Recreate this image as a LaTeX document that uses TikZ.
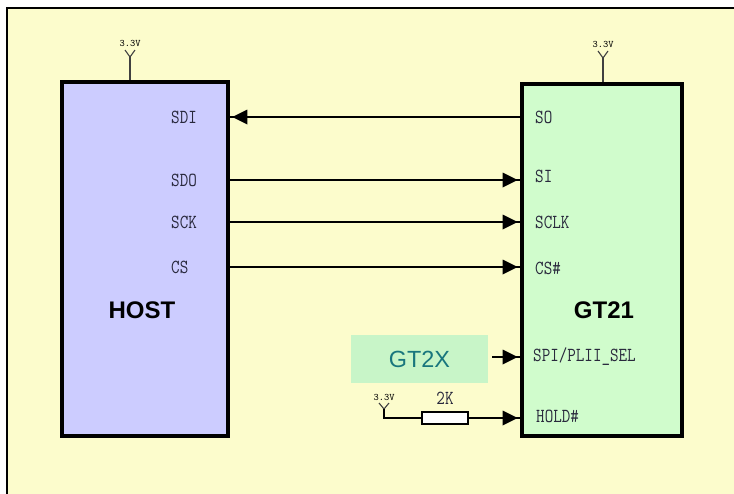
\documentclass[tikz,border=0pt]{standalone}
\usepackage{fontspec}
\usetikzlibrary{shapes.geometric}
\newfontfamily\armfont{Liberation Sans}
\definecolor{bgyellow}{RGB}{252,252,204}
\definecolor{hostblue}{RGB}{204,204,255}
\definecolor{chipgreen}{RGB}{208,252,204}
\definecolor{selgreen}{RGB}{200,245,200}
\definecolor{selteal}{RGB}{25,118,125}
\definecolor{pintext}{RGB}{40,40,60}
\tikzset{
  chip/.style={draw=black, line width=3.5pt, inner sep=0pt},
  pin/.style={anchor=west, inner sep=0pt, text=pintext, font=\fontsize{16.6}{16.6}\ttfamily},
  wire/.style={line width=2pt},
  tipr/.style={isosceles triangle, isosceles triangle stretches, fill=black, draw=none,
      inner sep=0pt, minimum height=15pt, minimum width=15pt, anchor=apex, shape border rotate=0},
  tipl/.style={tipr, shape border rotate=180},
  thin/.style={line width=1.1pt, draw=black!75},
  vlabel/.style={inner sep=0pt, font=\fontsize{10}{10}\ttfamily},
  chipname/.style={inner sep=0pt, font=\fontsize{24}{24}\armfont\bfseries}
}
\newcommand{\pinlbl}[1]{\scalebox{1}[1.2]{#1}}
\begin{document}
\begin{tikzpicture}[x=1pt,y=-1pt]
\useasboundingbox (0,0) rectangle (734,493);
\clip (0,0) rectangle (734,493);
\fill[white] (0,0) rectangle (734,493);
\draw[fill=bgyellow, line width=2pt] (7,8) rectangle (760,520);
% chips
\node[chip, fill=hostblue, minimum width=166pt, minimum height=354pt] (host) at (145,259) {};
\node[chip, fill=chipgreen, minimum width=160pt, minimum height=352pt] (gt) at (602,260) {};
\node[chipname] (hostname) at (142,310) {HOST};
\node[chipname] (gtname) at (604,310) {GT21};
% host pins
\node[pin] (sdi) at (171,117) {\pinlbl{SDI}};
\node[pin] (sdo) at (171,180) {\pinlbl{SDO}};
\node[pin] (sck) at (171,222) {\pinlbl{SCK}};
\node[pin] (cs) at (171,267) {\pinlbl{CS}};
% gt pins
\node[pin] (so) at (535,117) {\pinlbl{SO}};
\node[pin] (si) at (535,176) {\pinlbl{SI}};
\node[pin] (sclk) at (535,222) {\pinlbl{SCLK}};
\node[pin] (csn) at (535,268) {\pinlbl{CS\#}};
\node[pin] (sel) at (533,357) {\pinlbl{SPI/PLII\_SEL}};
\node[pin] (hold) at (536,416) {\pinlbl{HOLD\#}};
% signal lines
\draw[wire] (gt.west |- so) -- (host.east |- so) node[tipl, pos=1] (tsdi) {};
\draw[wire] (host.east |- sdo) -- (gt.west |- sdo) node[tipr, pos=1] (tsi) {};
\draw[wire] (host.east |- sck) -- (gt.west |- sck) node[tipr, pos=1] (tsclk) {};
\draw[wire] (host.east |- cs) -- (gt.west |- cs) node[tipr, pos=1] (tcs) {};
% GT2X
\node[fill=selgreen, minimum width=137pt, minimum height=48pt, inner sep=0pt,
      font=\fontsize{23.4}{23.4}\armfont, text=selteal] (gtx) at (419.5,359) {GT2X};
\coordinate (selstart) at (492,357);
\draw[wire] (selstart) -- (gt.west |- selstart) node[tipr, pos=1] (tsel) {};
% 3.3V supplies
\node[vlabel] (v1) at (130,43) {3.3V};
\coordinate (v1y) at (130,57);
\draw[thin] (125,50) -- (v1y) -- (135,50);
\draw[thin] (v1y) -- (host.north -| v1y);
\node[vlabel] (v2) at (603,44) {3.3V};
\coordinate (v2y) at (603,58);
\draw[thin] (598,51) -- (v2y) -- (608,51);
\draw[thin] (v2y) -- (gt.north -| v2y);
\node[vlabel] (v3) at (384,397) {3.3V};
\coordinate (v3y) at (384,409);
\draw[thin] (379,403) -- (v3y) -- (389,403);
% resistor
\node[draw, line width=1.8pt, fill=white, minimum width=46pt, minimum height=12pt, inner sep=0pt] (res) at (445,418) {};
\node[inner sep=0pt, text=pintext, font=\fontsize{16.6}{16.6}\ttfamily] (rlbl) at (445,398) {\pinlbl{2K}};
\draw[wire] (v3y) |- (res.west);
\draw[wire] (res.east) -- (gt.west |- res.east) node[tipr, pos=1] (thold) {};
\end{tikzpicture}
\end{document}
